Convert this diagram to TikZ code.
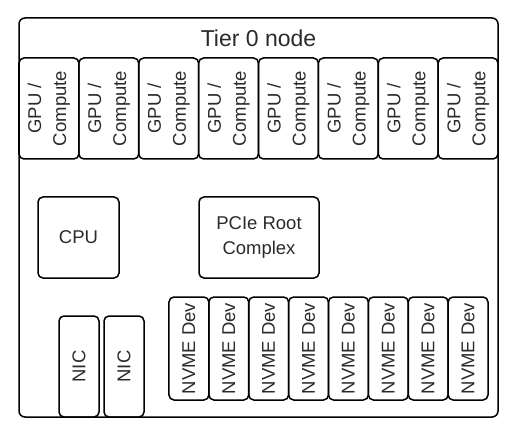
\documentclass[tikz,border=0pt]{standalone}
\usepackage{fontspec}
\setmainfont{Liberation Sans}
\definecolor{txt}{HTML}{2A2A2A}
\begin{document}
\begin{tikzpicture}[x=1pt,y=-1pt,
  box/.style={draw=black, line width=1.5pt, rounded corners=5pt, inner sep=0pt, outer sep=0pt, text=txt, font=\fontsize{18.5}{25}\selectfont, align=center},
  gpubox/.style={box, rotate=90, minimum width=101pt, minimum height=59.9pt},
  nvmebox/.style={box, rotate=90, minimum width=103pt, minimum height=39.9pt},
  nicbox/.style={box, rotate=90, minimum width=101pt, minimum height=40pt}
]
\useasboundingbox (0,0) rectangle (515,436);
\node[box, rounded corners=6pt, minimum width=479pt, minimum height=399pt] (outer) at (258.5,217.5) {};
\node[text=txt, font=\fontsize{23}{27}\selectfont, inner sep=0pt] (title) at (258.5,38) {Tier 0 node};
\foreach \i in {0,...,7} {
  \node[gpubox] (gpu\i) at ({19+59.875*(\i+0.5)},108.5) {GPU /\\Compute};
}
\node[box, minimum width=81pt, minimum height=81pt] (cpu) at (78.5,237.5) {CPU};
\node[box, minimum width=120pt, minimum height=81pt] (pcie) at (259,237.5) {PCIe Root\\Complex};
\foreach \i in {0,...,7} {
  \node[nvmebox] (nvme\i) at ({169+39.875*(\i+0.5)},348.5) {NVME Dev};
}
\node[nicbox] (nic0) at (79,366.5) {NIC};
\node[nicbox] (nic1) at (124,366.5) {NIC};
\end{tikzpicture}
\end{document}
